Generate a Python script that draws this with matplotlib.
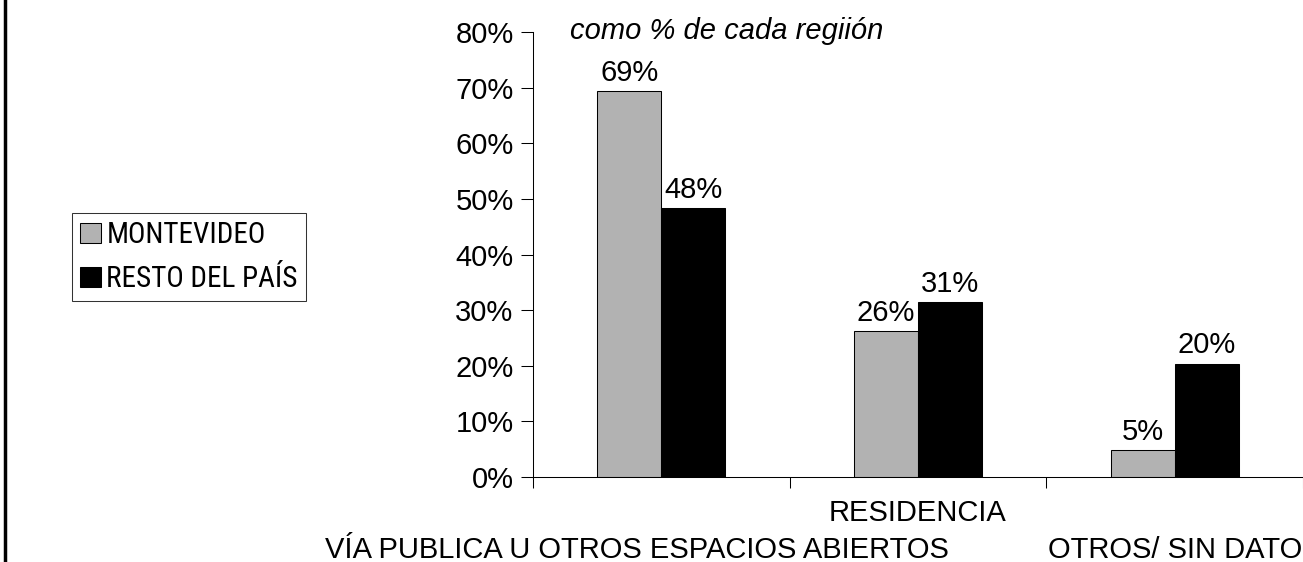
import matplotlib.pyplot as plt
import numpy as np
from matplotlib.patches import Patch
from matplotlib.lines import Line2D
from matplotlib import font_manager

categories = ["VÍA PUBLICA U OTROS ESPACIOS ABIERTOS", "RESIDENCIA", "OTROS/ SIN DATO"]
montevideo = [69.4, 26.2, 4.8]
resto = [48.4, 31.4, 20.4]
series_names = ["MONTEVIDEO", "RESTO DEL PAÍS"]
yticks = [0, 10, 20, 30, 40, 50, 60, 70, 80]

# look for a narrow sans font (legend text looks condensed)
narrow = None
best = 99
prefs = ["liberation sans narrow", "arial narrow", "roboto condensed", "noto sans", "dejavu sans", "open sans"]
for f in font_manager.fontManager.ttflist:
    n = f.name.lower()
    p = f.fname.lower()
    if "mono" in n or "mono" in p or "cjk" in n or "serif" in n:
        continue
    cond = "narrow" in n or "condensed" in n or "narrow" in p or "condensed" in p \
        or f.stretch in ("condensed", "semi-condensed")
    if not cond or f.style != "normal" or f.weight not in (400, "normal", "regular"):
        continue
    if "semi" in p or "extra" in p or "ultra" in p:
        continue
    rank = next((i for i, k in enumerate(prefs) if k in n), 50)
    if rank < best:
        best, narrow = rank, f.fname

plt.rcParams['font.family'] = ['Liberation Sans', 'DejaVu Sans']

if narrow:
    leg_prop = font_manager.FontProperties(fname=narrow, size=21)
else:
    leg_prop = font_manager.FontProperties(family="Liberation Sans", size=17)

W, H = 1303, 562
fig = plt.figure(figsize=(W / 100, H / 100), dpi=100)
ax = fig.add_axes([533 / W, 1 - 477 / H, 1 - 533 / W, (477 - 32) / H])

x = np.arange(len(categories))
bw = 0.25
b1 = ax.bar(x - bw / 2, montevideo, bw, color="#b2b2b2", edgecolor="black", linewidth=0.75)
b2 = ax.bar(x + bw / 2, resto, bw, color="black", edgecolor="black", linewidth=0.75)

for bars, vals in [(b1, montevideo), (b2, resto)]:
    for r, v in zip(bars, vals):
        ax.annotate("%d%%" % round(v), (r.get_x() + r.get_width() / 2, v),
                    xytext=(0, 3), textcoords="offset points",
                    ha="center", va="bottom", fontsize=21)

ax.set_xlim(-0.5, 2.5)
ax.set_ylim(0, 80)
ax.set_yticks(yticks)
ax.set_yticklabels(["%d%%" % t for t in yticks], fontsize=21)
ax.set_xticks([-0.5, 0.5, 1.5, 2.5])
ax.set_xticklabels([])
ax.tick_params(axis="y", direction="out", length=9, width=0.75, pad=5)
ax.tick_params(axis="x", direction="out", length=8, width=0.75)
for s in ["top", "right"]:
    ax.spines[s].set_visible(False)
for s in ["left", "bottom"]:
    ax.spines[s].set_linewidth(0.75)

# staggered category labels
label_x = [-0.095, 1, 2]
label_y = [-0.163, -0.08, -0.163]
for c, lx, ly in zip(categories, label_x, label_y):
    ax.text(lx, ly, c, transform=ax.get_xaxis_transform(), ha="center", va="center",
            fontsize=21)

fig.text(570 / W, 1 - 31 / H, "como % de cada regiión", style="italic", fontsize=21,
         ha="left", va="center")

handles = [Patch(facecolor="#b2b2b2", edgecolor="black", linewidth=0.75),
           Patch(facecolor="black", edgecolor="black", linewidth=0.75)]
leg = fig.legend(handles, series_names, loc="upper right", bbox_to_anchor=(306 / W, 1 - 213 / H),
                 borderaxespad=0, frameon=True, fancybox=False, edgecolor="black",
                 handlelength=0.7, handleheight=0.7, handletextpad=0.2,
                 prop=leg_prop, labelspacing=0.55, borderpad=0.28)
leg.get_frame().set_linewidth(0.75)

fig.add_artist(Line2D([4.5 / W, 4.5 / W], [0, 1], color="black", linewidth=2.5))

fig.savefig("out.png", dpi=100)
